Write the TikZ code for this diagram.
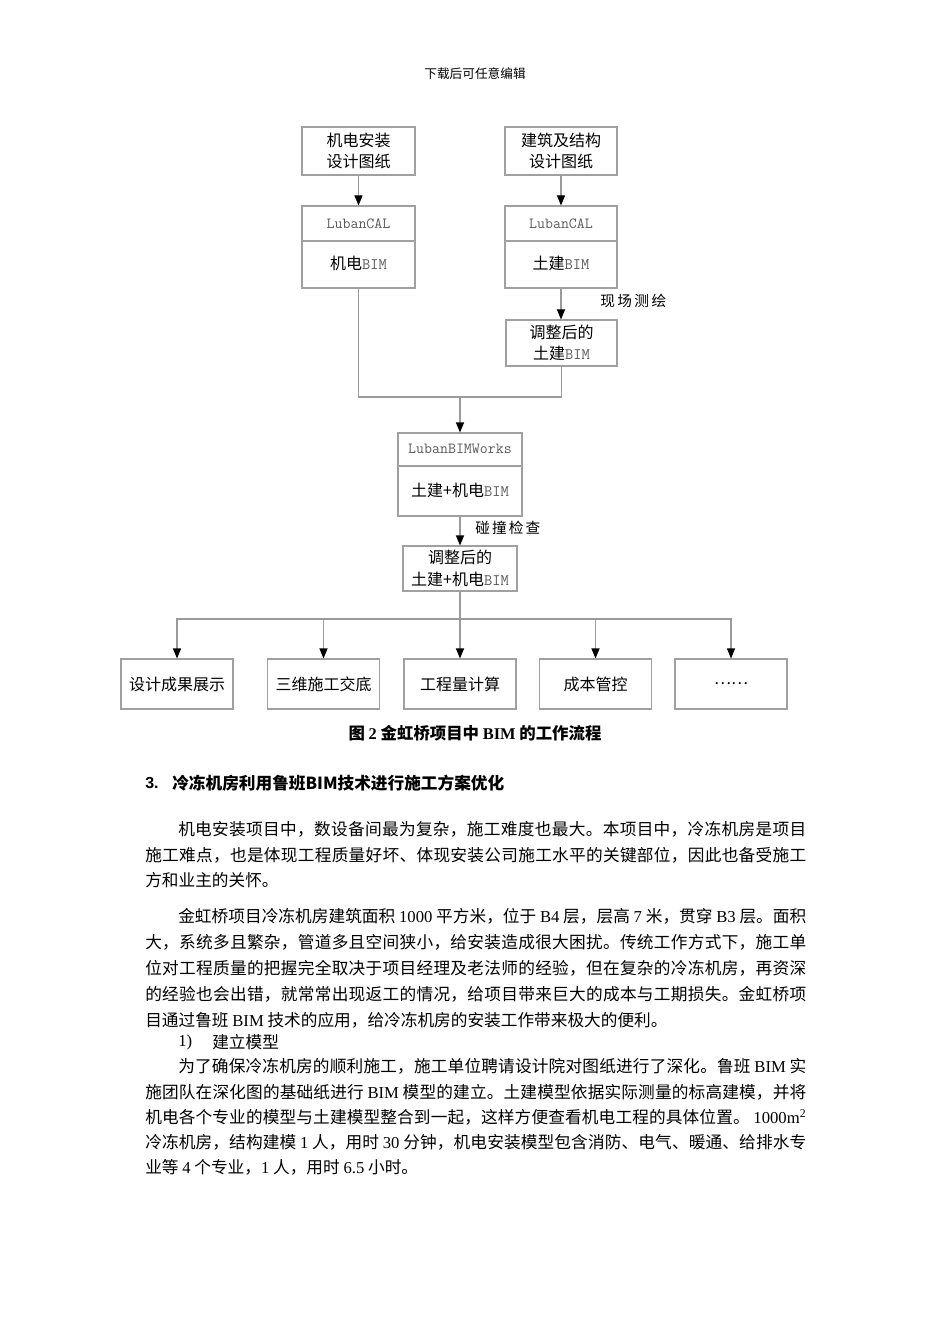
\documentclass[tikz,border=0pt]{standalone}
\usepackage{fontspec}
\usetikzlibrary{arrows.meta}
\setmainfont{Liberation Serif}
\newfontfamily\cjk{Noto Sans CJK SC}
\newfontfamily\latw{Liberation Serif}
\newfontfamily\sanslat{Liberation Sans}
% character class for CJK characters, used to spread justified lines
\newXeTeXintercharclass\cjkcls
\newcount\cjkcnt
\cjkcnt="3000 \loop \XeTeXcharclass\cjkcnt=\cjkcls \ifnum\cjkcnt<"303F \advance\cjkcnt 1 \repeat
\cjkcnt="4E00 \loop \XeTeXcharclass\cjkcnt=\cjkcls \ifnum\cjkcnt<"9FFF \advance\cjkcnt 1 \repeat
\cjkcnt="FF00 \loop \XeTeXcharclass\cjkcnt=\cjkcls \ifnum\cjkcnt<"FFEF \advance\cjkcnt 1 \repeat
\XeTeXinterchartoks\cjkcls\cjkcls={\hskip 0pt plus 1fil minus 0.6pt\relax}
\definecolor{boxgray}{HTML}{A0A0A0}
\definecolor{linegray}{HTML}{9A9A9A}
\definecolor{bimgray}{HTML}{5A5A5A}
\newcommand\jline[2]{\hbox to #1{\XeTeXinterchartokenstate=1\relax #2}}
\newcommand\bim{{\ttfamily\color{bimgray}BIM}}
\newcommand\lw[1]{{\latw #1}}
\tikzset{
  box/.style={draw=boxgray, line width=0.8pt, inner sep=0pt, align=center, font=\cjk\fontsize{12}{16}\selectfont},
  intext/.style={inner sep=0pt, font=\cjk\fontsize{12}{16}\selectfont},
  luban/.style={inner sep=0pt, font=\ttfamily\fontsize{11.6}{14}\selectfont, text=bimgray},
  conn/.style={draw=linegray, line width=0.8pt},
  arr/.style={conn, -{Triangle[length=7.5pt,width=6pt,color=black]}},
  body/.style={anchor=west, inner sep=0pt, font=\cjk\fontsize{12.5}{15}\selectfont},
  lbl/.style={anchor=west, inner sep=0pt, font=\cjk\fontsize{11}{13}\selectfont},
  bbox/.style={box, minimum width=84pt, minimum height=37.5pt}
}
\begin{document}
\begin{tikzpicture}[x=0.75pt,y=-0.75pt]
\useasboundingbox[fill=white] (0,0) rectangle (950,1344);

\node[inner sep=0pt, font=\cjk\fontsize{9.5}{11}\selectfont] (hdr) at (475,74) {下载后可任意编辑};

% diagram boxes
\node[box, minimum width=84.75pt, minimum height=36pt] (A) at (358.5,151) {机电安装\\设计图纸};
\node[box, minimum width=84pt, minimum height=36pt] (B) at (561,151) {建筑及结构\\设计图纸};
\node[box, minimum width=84.75pt, minimum height=61.5pt] (C) at (358.5,247) {};
\node[box, minimum width=84pt, minimum height=61.5pt] (D) at (561,247) {};
\node[box, minimum width=83.25pt, minimum height=34.5pt] (E) at (561.5,343) {调整后的\\土建\bim};
\node[box, minimum width=93pt, minimum height=62.25pt] (F) at (460,474.5) {};
\node[box, minimum width=85.5pt, minimum height=33.75pt] (G) at (460,568.5) {调整后的\\土建+机电\bim};

\coordinate (cdiv) at (0,241);
\coordinate (fdiv) at (0,466);
\draw[conn, draw=boxgray] (C.west |- cdiv) -- (C.east |- cdiv);
\draw[conn, draw=boxgray] (D.west |- cdiv) -- (D.east |- cdiv);
\draw[conn, draw=boxgray] (F.west |- fdiv) -- (F.east |- fdiv);

\node[luban] (Ct) at (358.5,223.5) {LubanCAL};
\node[intext] (Cb) at (358.5,263) {机电\bim};
\node[luban] (Dt) at (561,223.5) {LubanCAL};
\node[intext] (Db) at (561,263) {土建\bim};
\node[luban] (Ft) at (460,449) {LubanBIMWorks};
\node[intext] (Fb) at (460,490) {土建+机电\bim};

% bottom boxes
\node[bbox] (b1) at (177,684) {设计成果展示};
\node[bbox] (b2) at (323.5,684) {三维施工交底};
\node[bbox] (b3) at (460,684) {工程量计算};
\node[bbox] (b4) at (595.5,684) {成本管控};
\node[bbox] (b5) at (731,684) {……};

% connectors
\draw[arr] (A) -- (C);
\draw[arr] (B) -- (D);
\draw[arr] (D.south) -- (D.south |- E.north);
\coordinate (J1) at (460,397);
\draw[conn] (C.south) |- (J1);
\draw[conn] (E.south) |- (J1);
\draw[arr] (J1) -- (F.north);
\draw[arr] (F) -- (G);
\coordinate (J2) at (460,619);
\draw[conn] (G.south) -- (J2);
\draw[arr] (J2) -| (b1.north);
\draw[arr] (J2) -| (b2.north);
\draw[arr] (J2) -- (b3.north);
\draw[arr] (J2) -| (b4.north);
\draw[arr] (J2) -| (b5.north);

\node[lbl] (L1) at (600,301) {\jline{49.5pt}{现场测绘}};
\node[lbl] (L2) at (475,528) {\jline{48.75pt}{碰撞检查}};

% caption
\node[inner sep=0pt, font=\cjk\bfseries\fontsize{12.3}{14}\selectfont] (cap) at (475,733) {图 {\latw\bfseries 2} 金虹桥项目中 {\latw\bfseries BIM} 的工作流程};

% heading
\node[body, font=\sanslat\bfseries\fontsize{12}{14}\selectfont] (h3) at (145,783) {3.};
\node[body, font=\cjk\bfseries\fontsize{12.5}{14}\selectfont] (htitle) at (172,783) {冷冻机房利用鲁班BIM技术进行施工方案优化};

% paragraph 1
\node[body] (p1a) at (178,829) {\jline{471pt}{机电安装项目中，数设备间最为复杂，施工难度也最大。本项目中，冷冻机房是项目}};
\node[body] (p1b) at (145,855) {\jline{495.75pt}{施工难点，也是体现工程质量好坏、体现安装公司施工水平的关键部位，因此也备受施工}};
\node[body] (p1c) at (145,880) {方和业主的关怀。};

% paragraph 2
\node[body] (p2a) at (178,916) {\jline{471pt}{金虹桥项目冷冻机房建筑面积 \lw{1000} 平方米，位于 \lw{B4} 层，层高 \lw{7} 米，贯穿 \lw{B3} 层。面积}};
\node[body] (p2b) at (145,942) {\jline{495.75pt}{大，系统多且繁杂，管道多且空间狭小，给安装造成很大困扰。传统工作方式下，施工单}};
\node[body] (p2c) at (145,968) {\jline{495.75pt}{位对工程质量的把握完全取决于项目经理及老法师的经验，但在复杂的冷冻机房，再资深}};
\node[body] (p2d) at (145,994) {\jline{495.75pt}{的经验也会出错，就常常出现返工的情况，给项目带来巨大的成本与工期损失。金虹桥项}};
\node[body] (p2e) at (145,1020) {目通过鲁班 \lw{BIM} 技术的应用，给冷冻机房的安装工作带来极大的便利。};

% 1)
\node[body] (s1n) at (178,1042) {\lw{1)}};
\node[body] (s1t) at (212,1042) {建立模型};

% paragraph 3
\node[body] (p3a) at (178,1066) {\jline{471pt}{为了确保冷冻机房的顺利施工，施工单位聘请设计院对图纸进行了深化。鲁班 \lw{BIM} 实}};
\node[body] (p3b) at (145,1092) {\jline{495.75pt}{施团队在深化图的基础纸进行 \lw{BIM} 模型的建立。土建模型依据实际测量的标高建模，并将}};
\node[body] (p3c) at (145,1117) {\jline{495.75pt}{机电各个专业的模型与土建模型整合到一起，这样方便查看机电工程的具体位置。 \lw{1000m\textsuperscript{2}}}};
\node[body] (p3d) at (145,1142) {\jline{495.75pt}{冷冻机房，结构建模 \lw{1} 人，用时 \lw{30} 分钟，机电安装模型包含消防、电气、暖通、给排水专}};
\node[body] (p3e) at (145,1167) {业等 \lw{4} 个专业，\lw{1} 人，用时 \lw{6.5} 小时。};
\end{tikzpicture}
\end{document}
